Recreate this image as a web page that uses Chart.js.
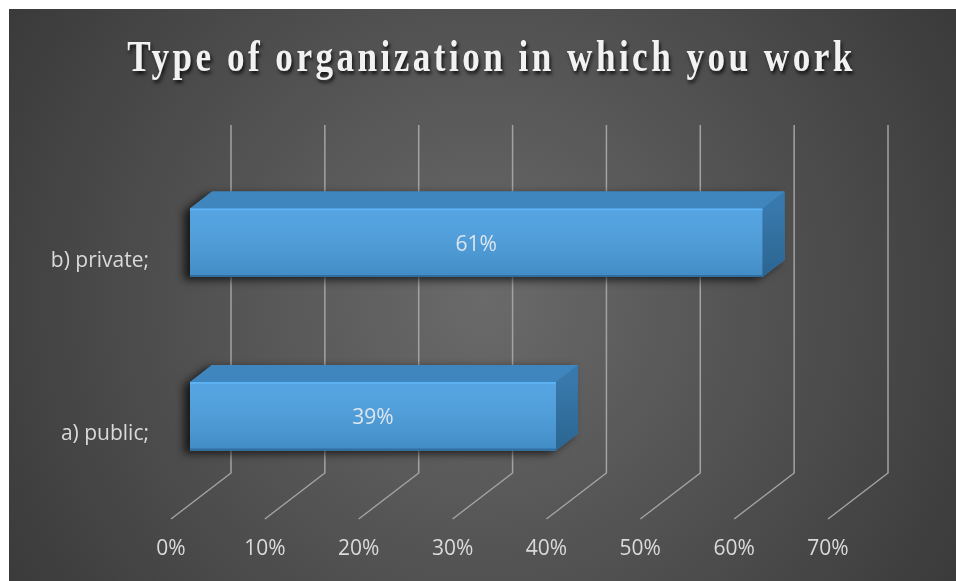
<!DOCTYPE html>
<html>
<head>
<meta charset="utf-8">
<script src="https://cdn.jsdelivr.net/npm/chart.js@4.4.0/dist/chart.umd.min.js"></script>
<style>
  html, body { margin: 0; padding: 0; background: #fff; }
  #wrap { position: relative; width: 956px; height: 581px; }
  #title {
    position: absolute; left: 18px; top: 35px; width: 947px;
    text-align: center; white-space: nowrap;
    font: bold 44px 'Liberation Serif', 'Times New Roman', serif;
    line-height: 44px; letter-spacing: 4.3px; color: #f2f2f2;
    text-shadow: 2px 3px 4px rgba(0, 0, 0, 0.75);
    transform: scaleX(0.8);
  }
</style>
</head>
<body>
<div id="wrap">
  <canvas id="chart" width="956" height="581"></canvas>
  <div id="title">Type of organization in which you work</div>
</div>
<script>
/* ---------------- data ---------------- */
var categories = ['b) private;', 'a) public;'];
var shares = [61, 39];
var xTicks = [0, 10, 20, 30, 40, 50, 60, 70];

/* ---------------- 3d look ---------------- */
var LABEL_FONT = "'Open Sans', sans-serif";
var BAR_DEPTH = { dx: 22, dy: -17 };   // front face -> back face
var WALL = { dx: 41, top: -31, bottom: -30 };
var FLOOR = { dx: -19, dy: 16 };

function barBox(el) {
  var p = el.getProps(['x', 'y', 'base', 'height'], true);
  return { x0: p.base, x1: p.x, top: p.y - p.height / 2, bot: p.y + p.height / 2, cy: p.y };
}

function silhouette(ctx, b) {
  ctx.beginPath();
  ctx.moveTo(b.x0, b.bot);
  ctx.lineTo(b.x0, b.top);
  ctx.lineTo(b.x0 + BAR_DEPTH.dx, b.top + BAR_DEPTH.dy);
  ctx.lineTo(b.x1 + BAR_DEPTH.dx, b.top + BAR_DEPTH.dy);
  ctx.lineTo(b.x1 + BAR_DEPTH.dx, b.bot + BAR_DEPTH.dy);
  ctx.lineTo(b.x1, b.bot);
  ctx.closePath();
}

var bar3d = {
  id: 'bar3d',
  beforeDraw: function (chart) {
    var ctx = chart.ctx;
    ctx.save();
    ctx.fillStyle = '#ffffff';
    ctx.fillRect(0, 0, chart.width, chart.height);
    var g = ctx.createRadialGradient(483, 300, 0, 483, 300, 580);
    g.addColorStop(0, '#6a6a6a');
    g.addColorStop(1, '#383838');
    ctx.fillStyle = g;
    ctx.fillRect(9, 9, chart.width - 9, chart.height - 9);
    ctx.restore();
  },
  beforeDatasetsDraw: function (chart) {
    var ctx = chart.ctx;
    var xs = chart.scales.x;
    var area = chart.chartArea;
    ctx.save();
    // back wall + floor gridlines
    ctx.strokeStyle = '#a3a3a3';
    ctx.lineWidth = 1.5;
    xTicks.forEach(function (v) {
      var px = xs.getPixelForValue(v);
      ctx.beginPath();
      ctx.moveTo(px + WALL.dx, area.top + WALL.top);
      ctx.lineTo(px + WALL.dx, area.bottom + WALL.bottom);
      ctx.lineTo(px + FLOOR.dx, area.bottom + FLOOR.dy);
      ctx.stroke();
    });
    // drop shadows, mostly to the left
    chart.getDatasetMeta(0).data.forEach(function (el) {
      var b = barBox(el);
      ctx.save();
      ctx.shadowColor = 'rgba(0,0,0,0.7)';
      ctx.shadowBlur = 9;
      ctx.shadowOffsetX = -6;
      ctx.shadowOffsetY = 3;
      ctx.fillStyle = '#3d85bd';
      silhouette(ctx, b);
      ctx.fill();
      ctx.restore();
    });
    ctx.restore();
  },
  afterDatasetsDraw: function (chart) {
    var ctx = chart.ctx;
    var meta = chart.getDatasetMeta(0);
    ctx.save();
    meta.data.forEach(function (el, i) {
      var b = barBox(el);
      // top face
      ctx.beginPath();
      ctx.moveTo(b.x0, b.top);
      ctx.lineTo(b.x0 + BAR_DEPTH.dx, b.top + BAR_DEPTH.dy);
      ctx.lineTo(b.x1 + BAR_DEPTH.dx, b.top + BAR_DEPTH.dy);
      ctx.lineTo(b.x1, b.top);
      ctx.closePath();
      ctx.fillStyle = '#3e86bd';
      ctx.fill();
      // side face
      var sg = ctx.createLinearGradient(0, b.top, 0, b.bot);
      sg.addColorStop(0, '#3878ab');
      sg.addColorStop(1, '#2b6591');
      ctx.beginPath();
      ctx.moveTo(b.x1, b.top);
      ctx.lineTo(b.x1 + BAR_DEPTH.dx, b.top + BAR_DEPTH.dy);
      ctx.lineTo(b.x1 + BAR_DEPTH.dx, b.bot + BAR_DEPTH.dy);
      ctx.lineTo(b.x1, b.bot);
      ctx.closePath();
      ctx.fillStyle = sg;
      ctx.fill();
      // front face shading
      var fg = ctx.createLinearGradient(0, b.top, 0, b.bot);
      fg.addColorStop(0, 'rgba(255,255,255,0.06)');
      fg.addColorStop(1, 'rgba(0,0,0,0.12)');
      ctx.fillStyle = fg;
      ctx.fillRect(b.x0, b.top, b.x1 - b.x0, b.bot - b.top);
      ctx.fillStyle = '#5cb2f2';
      ctx.fillRect(b.x0, b.top, b.x1 - b.x0, 2);
      ctx.fillStyle = '#2f6e9e';
      ctx.fillRect(b.x0, b.bot - 2, b.x1 - b.x0, 2);
      // value label
      ctx.fillStyle = '#dde5ee';
      ctx.font = '21px ' + LABEL_FONT;
      ctx.textAlign = 'center';
      ctx.textBaseline = 'middle';
      ctx.fillText(shares[i] + '%', (b.x0 + b.x1) / 2, b.cy + 2);
    });
    ctx.restore();
  }
};

new Chart(document.getElementById('chart').getContext('2d'), {
  type: 'bar',
  data: {
    labels: categories,
    datasets: [{
      data: shares,
      backgroundColor: '#4b9fe0',
      borderWidth: 0,
      categoryPercentage: 1,
      barPercentage: 0.395
    }]
  },
  plugins: [bar3d],
  options: {
    indexAxis: 'y',
    responsive: false,
    animation: false,
    layout: { padding: { top: 156, right: 109, left: 0, bottom: 0 } },
    scales: {
      x: {
        type: 'linear',
        min: 0,
        max: 70,
        afterBuildTicks: function (axis) {
          axis.ticks = xTicks.map(function (v) { return { value: v }; });
        },
        afterFit: function (axis) { axis.height = 78; },
        grid: { display: false, drawTicks: false, tickLength: 0 },
        border: { display: false },
        ticks: {
          color: '#dadada',
          font: { family: LABEL_FONT, size: 21 },
          padding: 33,
          labelOffset: FLOOR.dx,
          maxRotation: 0,
          callback: function (v) { return v + '%'; }
        }
      },
      y: {
        afterFit: function (axis) { axis.width = 190; },
        grid: { display: false, drawTicks: false, tickLength: 0 },
        border: { display: false },
        ticks: {
          color: '#dadada',
          font: { family: LABEL_FONT, size: 21 },
          padding: 41,
          labelOffset: 18
        }
      }
    },
    plugins: {
      legend: { display: false },
      tooltip: { enabled: false }
    }
  }
});
</script>
</body>
</html>
